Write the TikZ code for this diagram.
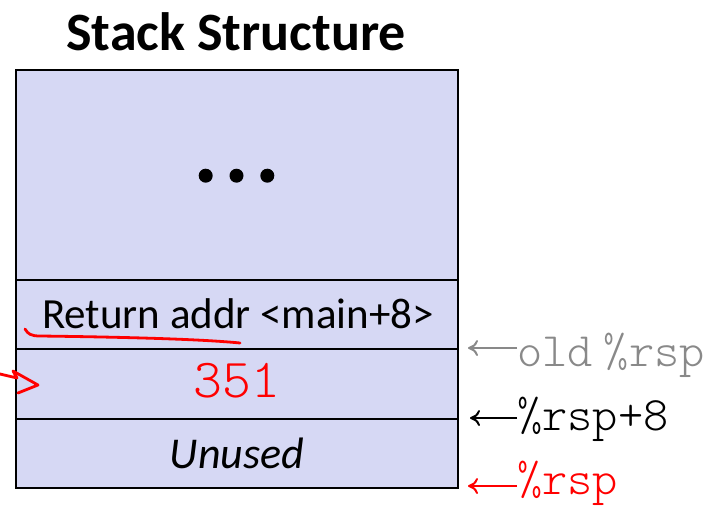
\documentclass[tikz,border=0pt]{standalone}
\usepackage{fontspec}
\setmainfont{Carlito}
\setmonofont{lmmonolt10-regular.otf}
\usetikzlibrary{arrows.meta}
\definecolor{stackfill}{RGB}{214,216,244}
\definecolor{oldgray}{RGB}{137,137,137}
\definecolor{annred}{RGB}{255,0,0}
\begin{document}
\begin{tikzpicture}[x=1pt,y=-1pt,
  frame/.style={draw=black,line width=2pt},
  cellline/.style={draw=black,line width=2pt},
  ptrarrow/.style={line width=2pt,-{To[length=10pt,width=16pt]}},
  ptrlabel/.style={anchor=base west,inner sep=0pt,font=\ttfamily\fontsize{48}{48}\selectfont},
  dot/.style={circle,fill=black,inner sep=0pt,minimum size=14pt},
  ink/.style={draw=annred,line width=2.8pt,line cap=round,line join=round}]
\useasboundingbox (0,0) rectangle (704,506);
% stack frame
\fill[stackfill] (16,70) rectangle (458,488);
\draw[cellline] (16,280) -- (458,280);
\draw[cellline] (16,349) -- (458,349);
\draw[cellline] (16,419) -- (458,419);
\draw[frame] (16,70) rectangle (458,488);
% title
\node[font=\bfseries\fontsize{54}{54}\selectfont,anchor=base,inner sep=0pt] (title) at (236,50) {Stack Structure};
% cells
\node[dot] (d1) at (205.7,175.7) {};
\node[dot] (d2) at (236.5,175.7) {};
\node[dot] (d3) at (267.3,175.7) {};
\node[font=\fontsize{43}{43}\selectfont,anchor=base,inner sep=0pt] (ret) at (238,328) {Return addr <main+8>};
\node[font=\ttfamily\fontsize{55}{55}\selectfont,text=annred,anchor=base,inner sep=0pt] (val) at (237,397) {351};
\node[font=\itshape\fontsize{44}{44}\selectfont,anchor=base,inner sep=0pt] (unused) at (237,468) {Unused};
% pointer labels
\coordinate (o1) at (468,348);
\coordinate (o2) at (470,418);
\coordinate (o3) at (468,486);
\node[ptrlabel,text=oldgray] (lold) at (517,366) {old\hspace{-14pt}~\%rsp};
\node[ptrlabel,text=black] (lp8) at (517,430) {\%rsp+8};
\node[ptrlabel,text=annred] (lrsp) at (517,494) {\%rsp};
\draw[ptrarrow,draw=oldgray] (lold.west |- o1) -- (o1);
\draw[ptrarrow,draw=black] (lp8.west |- o2) -- (o2);
\draw[ptrarrow,draw=annred] (lrsp.west |- o3) -- (o3);
% red annotations
\draw[ink] (25,329) .. controls (28,334) and (31,336) .. (40,336) .. controls (120,337) and (200,339) .. (240,343);
\draw[ink] (0,374) -- (17,378) -- (13,371) -- (38,385) -- (18,393);
\end{tikzpicture}
\end{document}
